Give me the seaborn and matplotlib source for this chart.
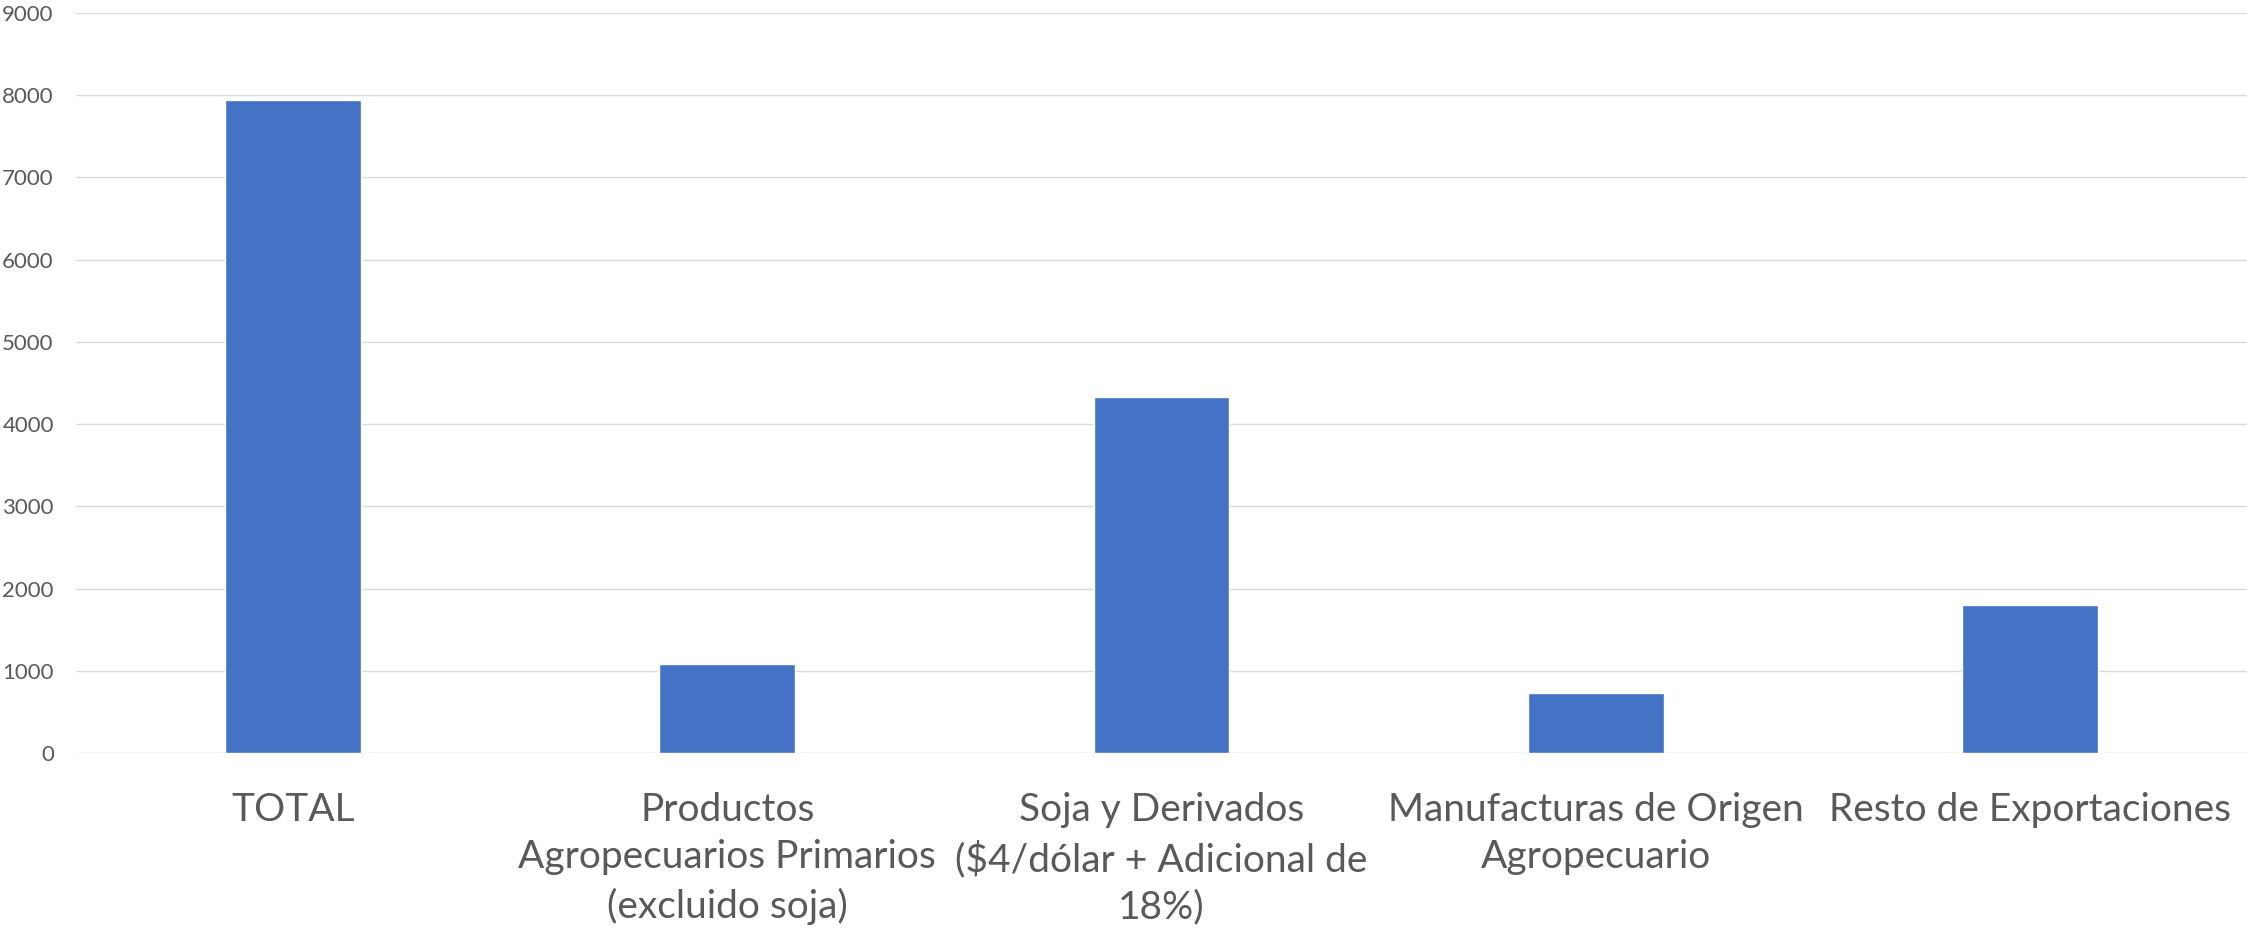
import seaborn as sns
import matplotlib.pyplot as plt

categories = ["TOTAL",
              "Productos Agropecuarios Primarios (excluido soja)",
              "Soja y Derivados ($4/dólar + Adicional de 18%)",
              "Manufacturas de Origen Agropecuario",
              "Resto de Exportaciones"]
values = [7940, 1085, 4335, 735, 1800]
tick_labels = ["TOTAL",
               "Productos\nAgropecuarios Primarios\n(excluido soja)",
               "Soja y Derivados\n($4/dólar + Adicional de\n18%)",
               "Manufacturas de Origen\nAgropecuario",
               "Resto de Exportaciones"]
y_ticks = list(range(0, 9001, 1000))

sns.set_style("white")
plt.rcParams['font.family'] = ['Lato', 'DejaVu Sans']

fig = plt.figure(figsize=(22.47, 9.38), dpi=100)
ax = fig.add_axes([76 / 2247, (938 - 753) / 938, 1 - 76 / 2247, 740 / 938])

sns.barplot(x=categories, y=values, color="#4472C4", saturation=1,
            width=0.313, ax=ax, zorder=3)

ax.set_ylim(0, 9000)
ax.set_xlim(-0.5, len(categories) - 0.5)
ax.set_yticks(y_ticks)
ax.set_yticklabels([str(t) for t in y_ticks], fontsize=16, color="#595959")
ax.set_xticks(range(len(categories)))
ax.set_xticklabels(tick_labels, fontsize=28, color="#595959", linespacing=1.4)
ax.tick_params(axis="both", length=0)
ax.tick_params(axis="y", pad=16)
ax.tick_params(axis="x", pad=28)
ax.yaxis.grid(True, color="#d9d9d9", linewidth=1.0, zorder=0)
ax.set_axisbelow(True)
for s in ax.spines.values():
    s.set_visible(False)
ax.set_xlabel("")
ax.set_ylabel("")

fig.savefig("out.png", dpi=100)
